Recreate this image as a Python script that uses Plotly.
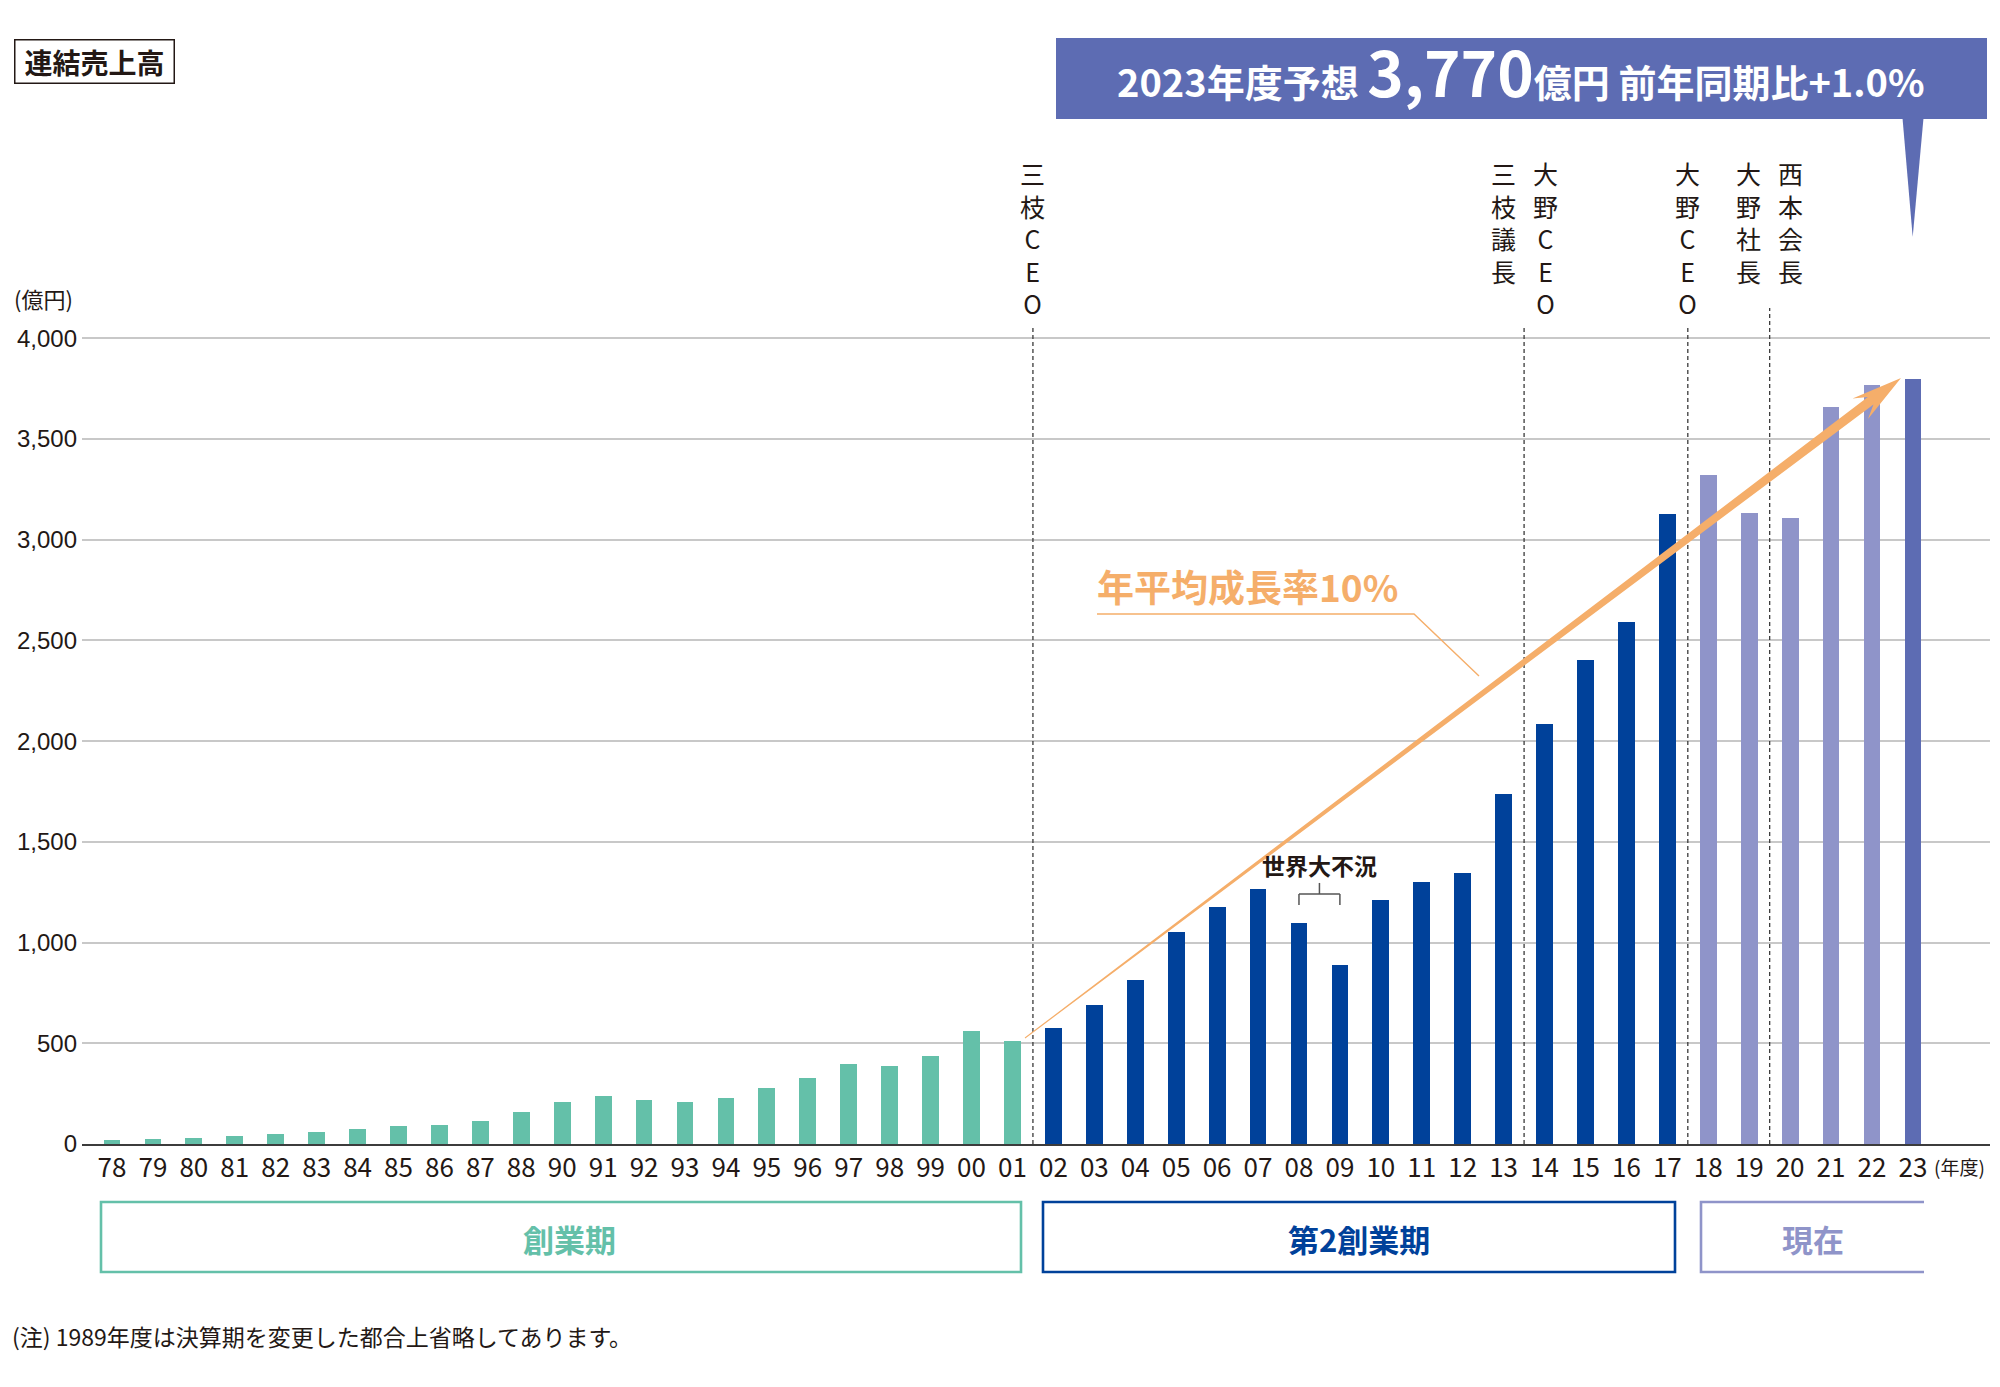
import plotly.graph_objects as go
import math

# ---------------- data ----------------
phase1_years = ['78', '79', '80', '81', '82', '83', '84', '85', '86', '87', '88',
                '90', '91', '92', '93', '94', '95', '96', '97', '98', '99', '00', '01']
phase1_sales = [20, 25, 30, 40, 48, 60, 74, 88, 93, 114, 160,
                210, 238, 217, 208, 230, 276, 326, 399, 389, 438, 559, 512]
phase2_years = ['02', '03', '04', '05', '06', '07', '08', '09', '10', '11', '12', '13',
                '14', '15', '16', '17']
phase2_sales = [574, 692, 814, 1053, 1178, 1264, 1098, 889, 1209, 1300, 1347, 1737,
                2083, 2401, 2590, 3129]
current_years = ['18', '19', '20', '21', '22']
current_sales = [3320, 3134, 3106, 3657, 3768]
forecast_years = ['23']
forecast_sales = [3800]

y_tick_values = [0, 500, 1000, 1500, 2000, 2500, 3000, 3500, 4000]
y_tick_labels = ['0', '500', '1,000', '1,500', '2,000', '2,500', '3,000', '3,500', '4,000']

phase_names = ['創業期', '第2創業期', '現在']

# leadership changes: (first year of new era, label columns)
event_years = ['02', '14', '18', '20']
event_labels = [['三枝CEO'], ['三枝議長', '大野CEO'], ['大野CEO'], ['大野社長', '西本会長']]

recession_years = ['08', '09']
recession_label = '世界大不況'
growth_label = '年平均成長率10%'
headline = "2023年度予想 <span style='font-size:62px'>3,770</span>億円 前年同期比+1.0%"
footnote = '(注) 1989年度は決算期を変更した都合上省略してあります。'

# ---------------- style / geometry ----------------
W, H = 2000, 1387
L, R, T, B = 82, 10, 298, 243
PW, PH = W - L - R, H - T - B
Y_MAX = 4200
X0R = -0.733
X1R = X0R + PW / 40.93

C_TEAL = '#64c0a9'
C_BLUE = '#00419a'
C_LAV = '#8f94c9'
C_FC = '#5d6cb3'
C_ORANGE = '#f5ae6a'
C_TEXT = '#231815'
FONT = 'Noto Sans CJK JP, Noto Sans, sans-serif'

years = phase1_years + phase2_years + current_years + forecast_years


def px(xp):
    return (xp - L) / PW


def py(yp):
    return (H - B - yp) / PH


def idx(year):
    return years.index(year)


fig = go.Figure()
for ys, vs, col in [(phase1_years, phase1_sales, C_TEAL),
                    (phase2_years, phase2_sales, C_BLUE),
                    (current_years, current_sales, C_LAV),
                    (forecast_years, forecast_sales, C_FC)]:
    fig.add_trace(go.Bar(x=ys, y=vs, marker=dict(color=col, line=dict(width=0)),
                         width=0.41, showlegend=False, hoverinfo='x+y'))

shapes = []
annotations = []

# leadership dashed lines + vertical labels
line_tops = [4065, 4065, 4065, 4150]
for yr, labels, top in zip(event_years, event_labels, line_tops):
    xline = idx(yr) - 0.5
    shapes.append(dict(type='line', xref='x', yref='y', x0=xline, x1=xline, y0=0, y1=top,
                       line=dict(color='#3a3a3a', width=1.3, dash='4px,3px'), layer='above'))
    xl_px = L + (xline - X0R) / (X1R - X0R) * PW
    offs = [0] if len(labels) == 1 else [-21, 21]
    for lab, off in zip(labels, offs):
        annotations.append(dict(xref='paper', yref='paper', x=px(xl_px + off), y=py(153),
                                xanchor='center', yanchor='top', showarrow=False,
                                text='<br>'.join(list(lab)), align='center',
                                font=dict(family=FONT, size=25, color=C_TEXT)))

# recession bracket
i8, i9 = idx(recession_years[0]), idx(recession_years[1])
for sh in [dict(x0=i8, x1=i9, y0=1241, y1=1241),
           dict(x0=i8, x1=i8, y0=1241, y1=1187),
           dict(x0=i9, x1=i9, y0=1241, y1=1187),
           dict(x0=(i8 + i9) / 2, x1=(i8 + i9) / 2, y0=1241, y1=1296)]:
    sh.update(type='line', xref='x', yref='y', line=dict(color='#555555', width=1.5))
    shapes.append(sh)
annotations.append(dict(xref='x', yref='y', x=(i8 + i9) / 2, y=1385, showarrow=False,
                        xanchor='center', yanchor='middle', text='<b>' + recession_label + '</b>',
                        font=dict(family=FONT, size=23, color=C_TEXT)))

# growth arrow (tapered)
p0 = (1025.0, 1038.0)
p1 = (1901.0, 378.0)
dx, dy = p1[0] - p0[0], p1[1] - p0[1]
ln = math.hypot(dx, dy)
ux, uy = dx / ln, dy / ln
nx, ny = -uy, ux


def pt(base, along, perp):
    return (base[0] + along * ux + perp * nx, base[1] + along * uy + perp * ny)


w0, w1 = 0.5, 4.7
poly = [pt(p0, 0, -w0), pt(p1, -38, -w1), pt(p1, -51, -12.8), p1,
        pt(p1, -51, 12.8), pt(p1, -38, w1), pt(p0, 0, w0)]
path = 'M ' + ' L '.join(f'{px(a):.5f},{py(b):.5f}' for a, b in poly) + ' Z'
shapes.append(dict(type='path', xref='paper', yref='paper', path=path,
                   fillcolor=C_ORANGE, line=dict(width=0), layer='above'))

# growth label and leader line
annotations.append(dict(xref='paper', yref='paper', x=px(1095), y=py(586), showarrow=False,
                        xanchor='left', yanchor='middle', text='<b>' + growth_label + '</b>',
                        font=dict(family=FONT, size=37, color=C_ORANGE)))
lead = [(1097, 614), (1414, 614), (1479, 676)]
shapes.append(dict(type='path', xref='paper', yref='paper',
                   path='M ' + ' L '.join(f'{px(a):.5f},{py(b):.5f}' for a, b in lead),
                   line=dict(color=C_ORANGE, width=1.4)))

# headline banner
shapes.append(dict(type='rect', xref='paper', yref='paper', x0=px(1056), x1=px(1987),
                   y0=py(38), y1=py(119), fillcolor=C_FC, line=dict(width=0)))
shapes.append(dict(type='path', xref='paper', yref='paper',
                   path=f'M {px(1902.5)},{py(118)} L {px(1923.5)},{py(118)} L {px(1912.7)},{py(237)} Z',
                   fillcolor=C_FC, line=dict(width=0)))
annotations.append(dict(xref='paper', yref='paper', x=px(1521), y=py(70), showarrow=False,
                        xanchor='center', yanchor='middle', text='<b>' + headline + '</b>',
                        font=dict(family=FONT, size=38, color='white')))

# title box
annotations.append(dict(xref='paper', yref='paper', x=px(94), y=py(61), showarrow=False,
                        xanchor='center', yanchor='middle', text='<b>連結売上高</b>',
                        width=158, height=42, borderpad=0, bordercolor=C_TEXT, borderwidth=1.5,
                        font=dict(family=FONT, size=28, color=C_TEXT)))

# unit labels
annotations.append(dict(xref='paper', yref='paper', x=px(12), y=py(298), showarrow=False,
                        xanchor='left', yanchor='middle', text='(億円)',
                        font=dict(family=FONT, size=22, color=C_TEXT)))
annotations.append(dict(xref='paper', yref='paper', x=px(1932), y=py(1166), showarrow=False,
                        xanchor='left', yanchor='middle', text='(年度)',
                        font=dict(family=FONT, size=19, color=C_TEXT)))

# phase boxes
box_cols = [C_TEAL, C_BLUE, C_LAV]
box_px = [(101, 1021), (1043, 1675), (1701, 1924)]
txt_px = [569, 1359, 1813]
by0, by1 = 1202, 1272
for (bx0, bx1), col, name, tx in zip(box_px, box_cols, phase_names, txt_px):
    if name == phase_names[-1]:
        p = f'M {px(bx1)},{py(by0)} L {px(bx0)},{py(by0)} L {px(bx0)},{py(by1)} L {px(bx1)},{py(by1)}'
        shapes.append(dict(type='path', xref='paper', yref='paper', path=p,
                           line=dict(color=col, width=2.6)))
    else:
        shapes.append(dict(type='rect', xref='paper', yref='paper', x0=px(bx0), x1=px(bx1),
                           y0=py(by0), y1=py(by1), line=dict(color=col, width=2.6)))
    annotations.append(dict(xref='paper', yref='paper', x=px(tx), y=py(1238), showarrow=False,
                            xanchor='center', yanchor='middle', text='<b>' + name + '</b>',
                            font=dict(family=FONT, size=31, color=col)))

# footnote
annotations.append(dict(xref='paper', yref='paper', x=px(10), y=py(1336), showarrow=False,
                        xanchor='left', yanchor='middle', text=footnote,
                        font=dict(family=FONT, size=23, color=C_TEXT)))

fig.update_layout(
    width=W, height=H,
    margin=dict(l=L, r=R, t=T, b=B, pad=0),
    paper_bgcolor='white', plot_bgcolor='white',
    barmode='overlay', bargap=0,
    shapes=shapes, annotations=annotations,
    xaxis=dict(type='category', categoryorder='array', categoryarray=years,
               range=[X0R, X1R], tickmode='array', tickvals=years, ticktext=years,
               showgrid=False, showline=True, linecolor='#3c3c3c', linewidth=2,
               ticks='', tickfont=dict(family='Liberation Sans Narrow, Noto Sans CJK JP, sans-serif',
                                       size=26, color=C_TEXT),
               zeroline=False, fixedrange=True),
    yaxis=dict(range=[0, Y_MAX], tickmode='array', tickvals=y_tick_values, ticktext=y_tick_labels,
               showgrid=True, gridcolor='#c8c8c8', gridwidth=1.5, zeroline=False,
               showline=False, ticks='', ticklabelstandoff=4,
               tickfont=dict(family='Liberation Sans, Noto Sans, sans-serif', size=24, color=C_TEXT),
               fixedrange=True),
    font=dict(family=FONT, color=C_TEXT),
)

fig.write_html('out.html', config={'displayModeBar': False},
               post_script="document.body.style.margin='0';")
